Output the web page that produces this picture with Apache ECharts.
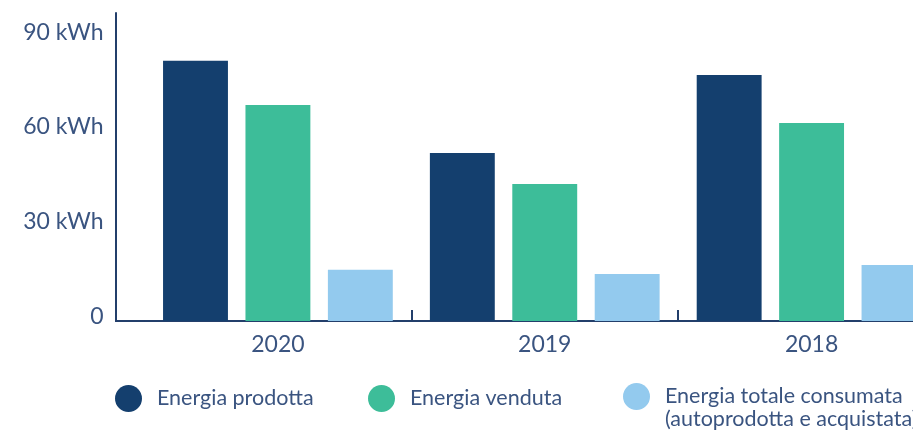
<!DOCTYPE html>
<html>
<head>
<meta charset="utf-8">
<script src="https://cdn.jsdelivr.net/npm/echarts@6/dist/echarts.min.js"></script>
<style>
  html, body { margin: 0; padding: 0; background: #fff; overflow: hidden; }
  /* il grafico originale è tagliato a destra: il div è più largo della finestra */
  #chart { width: 946px; height: 430px; }
</style>
</head>
<body>
<div id="chart"></div>
<script>
// anni e valori (kWh)
var anni = ['2020', '2019', '2018'];
var prodotta = [82.4, 53.2, 77.9];
var venduta = [68.4, 43.4, 62.7];
var consumata = [16.2, 14.9, 17.7];
var nomi = ['Energia prodotta', 'Energia venduta', 'Energia totale consumata\n(autoprodotta e acquistata)'];
var colori = ['#143f6e', '#3dbd99', '#93caee'];

var testo = '#3a5480';
var asse = '#233f6b';
var font = 'Lato';

var myChart = echarts.init(document.getElementById('chart'));

function legenda(i, left) {
    var dueRighe = i === 2;
    return {
        data: [nomi[i]],
        left: left,
        // con la riga vuota in testa il riquadro parte 23px più in alto
        top: dueRighe ? 362 : 385,
        icon: 'circle',
        itemWidth: 27,
        itemHeight: 27,
        itemGap: 0,
        padding: 0,
        selectedMode: false,
        // riga vuota in testa: così il cerchio resta allineato alla prima riga
        formatter: dueRighe ? function (n) { return '\n' + n; } : '{name}',
        textStyle: {
            color: testo,
            fontFamily: font,
            fontSize: 21.5,
            lineHeight: 23,
            padding: [0, 0, 0, 10]
        }
    };
}

var option = {
    animation: false,
    grid: {
        left: 144.5,
        right: 1,
        top: 13,
        bottom: 109,
        containLabel: false
    },
    legend: [legenda(0, 115), legenda(1, 368), legenda(2, 623)],
    xAxis: {
        type: 'category',
        data: anni,
        axisLine: { lineStyle: { color: asse, width: 2 } },
        axisTick: {
            show: true,
            inside: true,
            length: 11,
            interval: function (i) { return i > 0; },
            lineStyle: { color: asse, width: 2 }
        },
        axisLabel: {
            color: testo,
            fontFamily: font,
            fontSize: 23,
            margin: 12
        }
    },
    yAxis: {
        type: 'value',
        min: 0,
        max: 97.5,
        interval: 30,
        offset: 29,
        axisLine: { show: true, lineStyle: { color: asse, width: 2 } },
        axisTick: { show: false },
        splitLine: { show: false },
        axisLabel: {
            showMaxLabel: false,
            color: testo,
            fontFamily: font,
            fontSize: 23,
            margin: 12,
            verticalAlign: 'bottom',
            lineHeight: 9,
            formatter: function (v) { return v === 0 ? '0' : v + ' kWh'; }
        }
    },
    // tratto dell'asse x tra l'asse y e il primo gruppo
    graphic: [{
        type: 'line',
        shape: { x1: 115, y1: 321, x2: 145, y2: 321 },
        style: { stroke: asse, lineWidth: 2 }
    }],
    series: [
        { name: nomi[0], type: 'bar', data: prodotta, itemStyle: { color: colori[0] }, barGap: '27%', barCategoryGap: '13.9%' },
        { name: nomi[1], type: 'bar', data: venduta, itemStyle: { color: colori[1] } },
        { name: nomi[2], type: 'bar', data: consumata, itemStyle: { color: colori[2] } }
    ]
};

myChart.setOption(option);
</script>
</body>
</html>
